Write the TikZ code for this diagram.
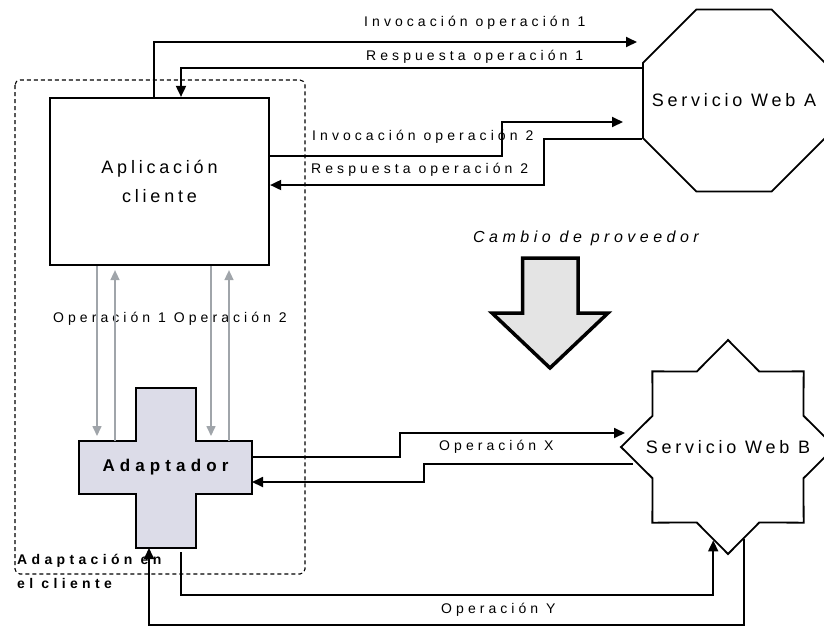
\documentclass[tikz,border=0pt]{standalone}
\usepackage{fontspec}
\setmainfont{Liberation Sans}
\usetikzlibrary{shapes.geometric,arrows.meta,calc,backgrounds}

\definecolor{graylink}{RGB}{160,165,170}
\definecolor{crossfill}{RGB}{220,220,232}
\definecolor{arrowfill}{RGB}{228,228,228}

\begin{document}
\begin{tikzpicture}[x=1pt,y=-1pt,
  conn/.style={line width=1.8pt,-{Triangle[length=11pt,width=10pt]}},
  grayconn/.style={line width=1.6pt,draw=graylink,-{Triangle[length=10pt,width=9pt]}},
  lbl/.style={inner sep=0pt,anchor=base west,
    font=\fontsize{14}{16}\selectfont\addfontfeature{LetterSpace=29}},
  biglbl/.style={font=\fontsize{18}{29}\selectfont\addfontfeature{LetterSpace=21}},
  octo/.style={regular polygon,regular polygon sides=8,minimum size=197pt,
    inner sep=0pt,draw,line width=1.8pt},
  starbox/.style={star,star points=8,star point ratio=1.31,minimum size=214pt,
    inner sep=0pt,draw,line width=1.8pt},
  appbox/.style={draw,line width=2.2pt,minimum width=219pt,minimum height=167pt,
    align=center,biglbl},
  barbox/.style={inner sep=0pt,outer sep=0pt},
  crossbox/.style={draw,line width=2.5pt,fill=crossfill,line join=miter},
  frame/.style={draw,dashed,dash pattern=on 4pt off 3pt,line width=1.1pt,rounded corners=5pt},
]
\useasboundingbox (0,0) rectangle (824,625);

% client-side adaptation frame
\draw[frame] (15,80) rectangle (305,574);

% main blocks
\node[appbox] (app) at (159.5,181.5) {Aplicación\\cliente};
\node[octo,label={[biglbl]center:Servicio Web A}] (A) at (734,100.5) {};
\node[starbox,label={[biglbl]center:Servicio Web B}] (B) at (728,447) {};

% adapter cross: vertical and horizontal bars
\node[barbox,minimum width=60pt,minimum height=160pt] (adv) at (166,468) {};
\node[barbox,minimum width=173pt,minimum height=53pt,
  font=\fontsize{17}{20}\selectfont\bfseries\addfontfeature{LetterSpace=30}] (ad) at (165.5,467.5) {Adaptador};
\begin{scope}[on background layer]
\draw[crossbox] (adv.north west) -- (adv.north east) -- (adv.north east |- ad.north)
  -- (ad.north east) -- (ad.south east) -- (ad.south east -| adv.east)
  -- (adv.south east) -- (adv.south west) -- (adv.south west |- ad.south)
  -- (ad.south west) -- (ad.north west) -- (ad.north west -| adv.west) -- cycle;
\end{scope}

% provider change arrow
\node[inner sep=0pt,anchor=base west,
  font=\fontsize{16}{19}\selectfont\itshape\addfontfeature{LetterSpace=28}] (chg) at (473,242) {Cambio de proveedor};
\draw[line width=3.5pt,fill=arrowfill,line join=miter]
  (522.5,258) -- (578,258) -- (578,313) -- (608,313) -- (550,368) -- (492,313) -- (522.5,313) -- cycle;

% labels
\node[lbl] (l1) at (364,26) {Invocación operación 1};
\node[lbl] (l2) at (366,60) {Respuesta operación 1};
\node[lbl] (l3) at (312,140) {Invocación operación 2};
\node[lbl] (l4) at (311,173) {Respuesta operación 2};
\node[lbl] (l5) at (53,322) {Operación 1 Operación 2};
\node[lbl] (l6) at (439,450) {Operación X};
\node[lbl] (l7) at (441,613) {Operación Y};
\node[inner sep=0pt,anchor=base west,align=left,
  font=\fontsize{14}{24}\selectfont\bfseries\addfontfeature{LetterSpace=31}] (grp) at (17,588) {Adaptación en\\el cliente};

% free ends of the message arrows
\coordinate (i1end) at (637,42);
\coordinate (i2end) at (623,122);
\coordinate (xend) at (625,433);
\coordinate (xret) at (633,464);

% web service A messages
\draw[conn] ([xshift=-5.5pt]app.north) |- (i1end);
\draw[conn] ($(A.west)+(0,-32.5)$) -| ([xshift=21.5pt]app.north);
\draw[conn] ([yshift=25.5pt]app.east) -| (502,122) -- (i2end);
\draw[conn] ($(A.west)+(0,38.5)$) -| (544,185) -- ([yshift=-3.5pt]app.east);

% application <-> adapter
\draw[grayconn,shorten >=5pt] ([xshift=-62.5pt]app.south) -- ([xshift=-68.5pt]ad.north);
\draw[grayconn,shorten >=4pt] ([xshift=-50.5pt]ad.north) -- ([xshift=-44.5pt]app.south);
\draw[grayconn,shorten >=5pt] ([xshift=51.5pt]app.south) -- ([xshift=45.5pt]ad.north);
\draw[grayconn,shorten >=4pt] ([xshift=63.5pt]ad.north) -- ([xshift=69.5pt]app.south);

% web service B messages
\draw[conn] ([yshift=10.5pt]ad.east) -| (400,433) -- (xend);
\draw[conn] (xret) -| (424,482) -- ([yshift=-14.5pt]ad.east);
\draw[conn] ($(adv.south)+(15,4)$) -- ++(0,43) -| (B.-99);
\draw[conn] (B.-80.5) -- ++(0,86) -| ($(adv.south)+(-17,0)$);
\end{tikzpicture}
\end{document}
